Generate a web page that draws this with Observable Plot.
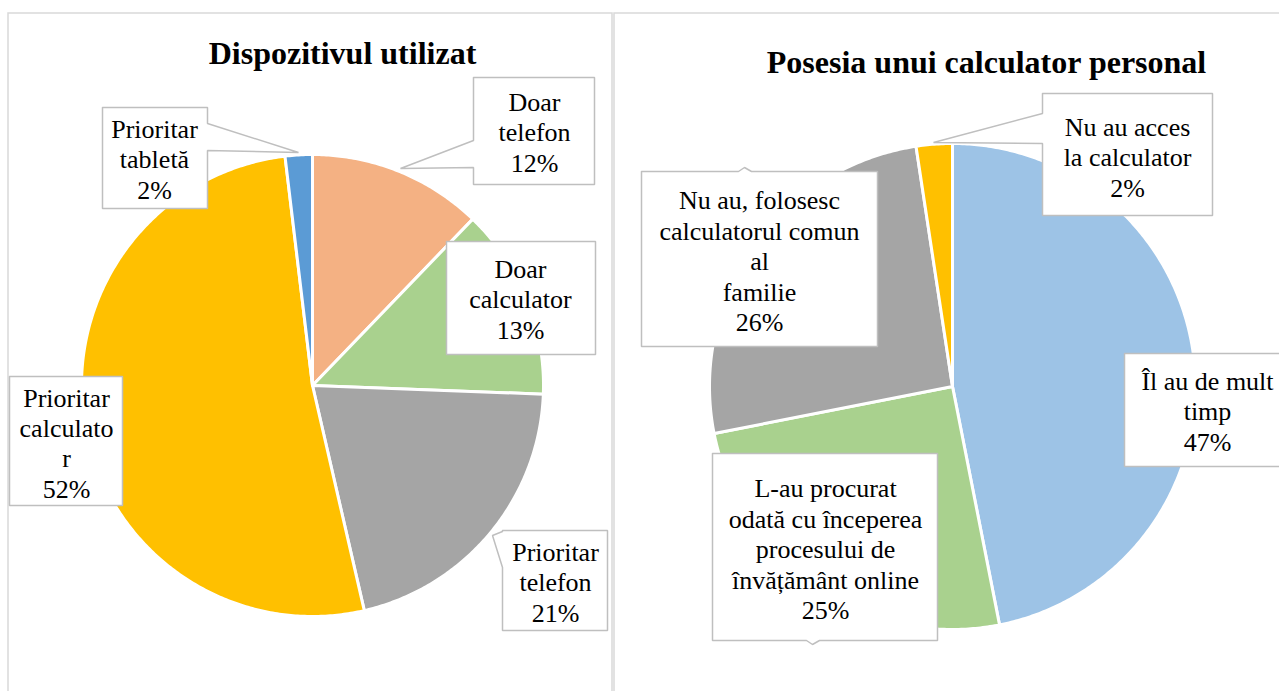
<!DOCTYPE html>
<html>
<head>
<meta charset="utf-8">
<script src="https://cdn.jsdelivr.net/npm/d3@7"></script>
<script src="https://cdn.jsdelivr.net/npm/@observablehq/plot@0.6"></script>
<style>
  html, body { margin: 0; padding: 0; background: #fff; }
  #chart svg text { font-family: "Liberation Serif", "Times New Roman", serif !important; }
</style>
</head>
<body>
<div id="chart"></div>
<script>
// ---------- DATA ----------
const devTitle = "Dispozitivul utilizat";
const devCategories = ["Doar telefon", "Doar calculator", "Prioritar telefon", "Prioritar calculator", "Prioritar tabletă"];
const devLabelLines = ["Doar\ntelefon", "Doar\ncalculator", "Prioritar\ntelefon", "Prioritar\ncalculato\nr", "Prioritar\ntabletă"];
const devValues = [12.2, 13.4, 20.8, 51.7, 1.9];

const posTitle = "Posesia unui calculator personal";
const posCategories = ["Îl au de mult timp", "L-au procurat odată cu începerea procesului de învățământ online", "Nu au, folosesc calculatorul comun al familie", "Nu au acces la calculator"];
const posLabelLines = ["Îl au de mult\ntimp", "L-au procurat\nodată cu începerea\nprocesului de\nînvățământ online", "Nu au, folosesc\ncalculatorul comun\nal\nfamilie", "Nu au acces\nla calculator"];
const posValues = [46.9, 25.0, 25.7, 2.4];

// ---------- STYLE / LAYOUT ----------
const devColors = ["#F4B183", "#A9D18E", "#A5A5A5", "#FFC000", "#5B9BD5"];
const posColors = ["#9DC3E6", "#A9D18E", "#A5A5A5", "#FFC000"];
const devPie = {cx: 312, cy: 385, r: 231};
const posPie = {cx: 952, cy: 386, r: 243};
const serif = "Liberation Serif, Times New Roman, serif";

// callout outlines (box with optional wedge) and text centres
const devCallouts = [
  {pts: [[473,77],[594,77],[594,184],[473,184],[473,167],[400,168],[473,140]], tx: 534, ty: 131},
  {pts: [[446,241],[595,241],[595,354],[446,354]], tx: 520, ty: 298},
  {pts: [[502,530],[607,530],[607,630],[502,630],[502,567],[492,535],[502,531]], tx: 555, ty: 581},
  {pts: [[9,376],[122,376],[122,505],[9,505]], tx: 66, ty: 442},
  {pts: [[102,107],[207,107],[207,123],[298,152],[207,150],[207,208],[102,208]], tx: 154, ty: 158}
];
const posCallouts = [
  {pts: [[1124,353],[1300,353],[1300,466],[1124,466]], tx: 1207, ty: 410},
  {pts: [[712,453],[937,453],[937,640],[819,640],[812,644],[806,640],[712,640]], tx: 825, ty: 548},
  {pts: [[641,171],[738,171],[744,167],[751,171],[877,171],[877,346],[641,346]], tx: 759, ty: 260},
  {pts: [[1042,93],[1212,93],[1212,215],[1042,215],[1042,143],[933,142],[1042,113]], tx: 1127, ty: 156}
];

// ---------- BUILD ----------
function slicePolys(values, pie, colors) {
  const arcs = d3.pie().sort(null).value(d => d)(values);
  return arcs.map((a, i) => {
    const pts = [{x: pie.cx, y: pie.cy}];
    const n = Math.max(2, Math.ceil((a.endAngle - a.startAngle) / 0.01));
    for (let k = 0; k <= n; k++) {
      const t = a.startAngle + (a.endAngle - a.startAngle) * k / n;
      pts.push({x: pie.cx + pie.r * Math.sin(t), y: pie.cy - pie.r * Math.cos(t)});
    }
    pts.push({x: pie.cx, y: pie.cy});
    return {pts, color: colors[i]};
  });
}

function calloutMarks(callouts, lines, values) {
  const marks = [];
  callouts.forEach((c) => {
    const pts = c.pts.concat([c.pts[0]]).map(([x, y]) => ({x, y}));
    marks.push(Plot.line(pts, {x: "x", y: "y", fill: "white", stroke: "#BFBFBF", strokeWidth: 1.5, strokeLinejoin: "miter"}));
  });
  const texts = callouts.map((c, i) => ({x: c.tx, y: c.ty, t: lines[i] + "\n" + Math.round(values[i]) + "%"}));
  marks.push(Plot.text(texts, {x: "x", y: "y", text: "t", fontSize: 26, lineHeight: 1.17, fill: "#000", fontFamily: serif, textAnchor: "middle"}));
  return marks;
}

const devSlices = slicePolys(devValues, devPie, devColors);
const posSlices = slicePolys(posValues, posPie, posColors);

const marks = [
  Plot.rect([{x1: 8, x2: 612, y1: 13, y2: 720}, {x1: 614, x2: 1300, y1: 13, y2: 720}],
    {x1: "x1", x2: "x2", y1: "y1", y2: "y2", fill: "white", stroke: "#D9D9D9", strokeWidth: 1.5}),
  Plot.text([{x: 342, y: 53, t: devTitle}, {x: 986, y: 62, t: posTitle}],
    {x: "x", y: "y", text: "t", fontSize: 32, fontWeight: "bold", fill: "#000", fontFamily: serif}),
  ...devSlices.map(s => Plot.line(s.pts, {x: "x", y: "y", fill: s.color, stroke: "white", strokeWidth: 3, strokeLinejoin: "round"})),
  ...posSlices.map(s => Plot.line(s.pts, {x: "x", y: "y", fill: s.color, stroke: "white", strokeWidth: 3, strokeLinejoin: "round"})),
  ...calloutMarks(devCallouts, devLabelLines, devValues),
  ...calloutMarks(posCallouts, posLabelLines, posValues)
];

const chart = Plot.plot({
  width: 1279,
  height: 691,
  margin: 0,
  x: {domain: [0, 1279], range: [0, 1279], axis: null},
  y: {domain: [0, 691], range: [0, 691], axis: null},
  style: {background: "white", fontFamily: serif},
  marks
});
document.getElementById("chart").appendChild(chart);
</script>
</body>
</html>
